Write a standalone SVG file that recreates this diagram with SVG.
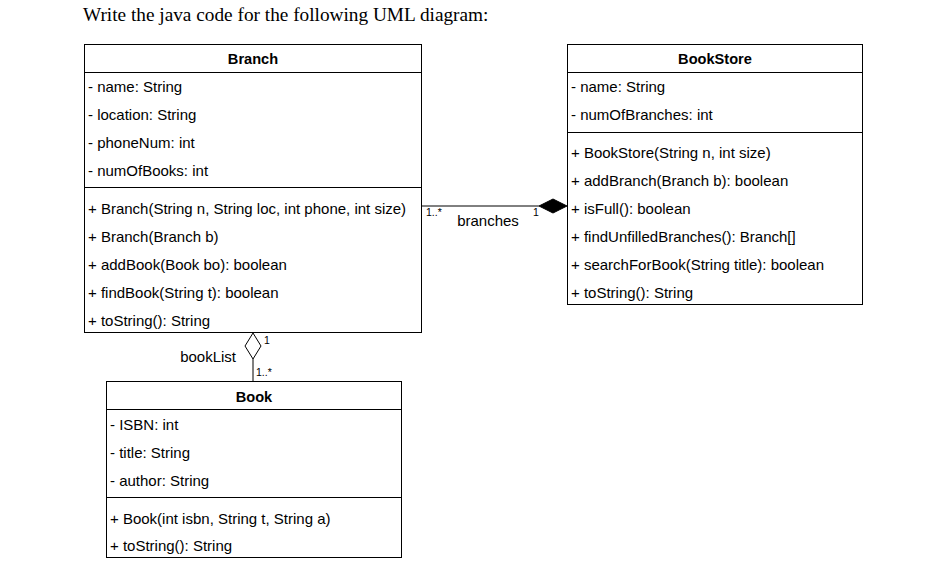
<svg xmlns="http://www.w3.org/2000/svg" width="935" height="567" viewBox="0 0 935 567">
<style>
.box{fill:#fff;stroke:#000;stroke-width:1}
.sep{stroke:#000;stroke-width:1}
.t{font-family:"Liberation Sans",Arial,sans-serif;font-size:15px;fill:#000}
.h{font-family:"Liberation Sans",Arial,sans-serif;font-size:14.6px;font-weight:bold;fill:#000;text-anchor:middle}
.s{font-family:"Liberation Sans",Arial,sans-serif;font-size:10.5px;fill:#000}
.title{font-family:"Liberation Serif","Times New Roman",serif;font-size:19.3px;fill:#000}
</style>
<rect width="935" height="567" fill="#fff"/>
<text class="title" x="83" y="21">Write the java code for the following UML diagram:</text>

<g id="connectors">
  <line x1="422" y1="206" x2="539" y2="206" stroke="#000" stroke-width="1"/>
  <polygon points="567,206 553,199 539,206 553,213" fill="#000" stroke="#000" stroke-width="1"/>
  <text class="s" x="426" y="216">1..*</text>
  <text class="t" x="488" y="226" text-anchor="middle">branches</text>
  <text class="s" x="533" y="216">1</text>
  <polygon points="253,333 261,346 253,359 245,346" fill="#fff" stroke="#000" stroke-width="1"/>
  <line x1="253" y1="359" x2="253" y2="381" stroke="#000" stroke-width="1"/>
  <text class="s" x="264" y="344">1</text>
  <text class="s" x="256" y="376">1..*</text>
  <text class="t" x="236" y="362" text-anchor="end">bookList</text>
</g>

<g id="Branch">
  <rect class="box" x="84.5" y="44.5" width="337" height="288"/>
  <line class="sep" x1="84.5" y1="72.5" x2="421.5" y2="72.5"/>
  <line class="sep" x1="84.5" y1="187.5" x2="421.5" y2="187.5"/>
  <text class="h" x="253" y="64">Branch</text>
  <text class="t" x="88" y="92">- name: String</text>
  <text class="t" x="88" y="120">- location: String</text>
  <text class="t" x="88" y="148">- phoneNum: int</text>
  <text class="t" x="88" y="176">- numOfBooks: int</text>
  <text class="t" x="88" y="214">+ Branch(String n, String loc, int phone, int size)</text>
  <text class="t" x="88" y="242">+ Branch(Branch b)</text>
  <text class="t" x="88" y="270">+ addBook(Book bo): boolean</text>
  <text class="t" x="88" y="298">+ findBook(String t): boolean</text>
  <text class="t" x="88" y="326">+ toString(): String</text>
</g>

<g id="BookStore">
  <rect class="box" x="567.5" y="44.5" width="295" height="260"/>
  <line class="sep" x1="567.5" y1="72.5" x2="862.5" y2="72.5"/>
  <line class="sep" x1="567.5" y1="132.5" x2="862.5" y2="132.5"/>
  <text class="h" x="715" y="64">BookStore</text>
  <text class="t" x="571" y="92">- name: String</text>
  <text class="t" x="571" y="120">- numOfBranches: int</text>
  <text class="t" x="571" y="158">+ BookStore(String n, int size)</text>
  <text class="t" x="571" y="186">+ addBranch(Branch b): boolean</text>
  <text class="t" x="571" y="214">+ isFull(): boolean</text>
  <text class="t" x="571" y="242">+ findUnfilledBranches(): Branch[]</text>
  <text class="t" x="571" y="270">+ searchForBook(String title): boolean</text>
  <text class="t" x="571" y="298">+ toString(): String</text>
</g>

<g id="Book">
  <rect class="box" x="106.5" y="381.5" width="295" height="176"/>
  <line class="sep" x1="106.5" y1="409.5" x2="401.5" y2="409.5"/>
  <line class="sep" x1="106.5" y1="497.5" x2="401.5" y2="497.5"/>
  <text class="h" x="254" y="402">Book</text>
  <text class="t" x="110" y="430">- ISBN: int</text>
  <text class="t" x="110" y="458">- title: String</text>
  <text class="t" x="110" y="486">- author: String</text>
  <text class="t" x="110" y="524">+ Book(int isbn, String t, String a)</text>
  <text class="t" x="110" y="551">+ toString(): String</text>
</g>
</svg>
